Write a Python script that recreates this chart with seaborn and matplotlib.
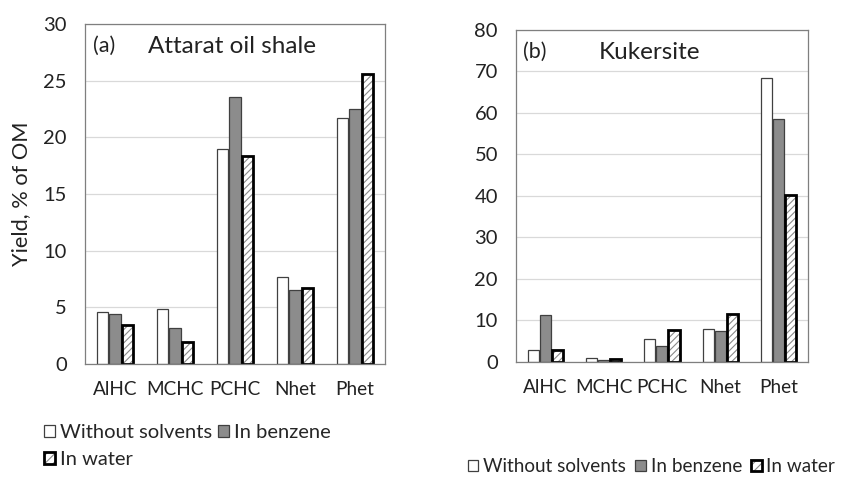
import matplotlib
matplotlib.use("Agg")
import matplotlib.pyplot as plt
import seaborn as sns
import pandas as pd
from matplotlib.patches import Rectangle, Patch

categories = ["AlHC", "MCHC", "PCHC", "Nhet", "Phet"]
series_names = ["Without solvents", "In benzene", "In water"]

attarat_without = [4.6, 4.85, 19.0, 7.65, 21.7]
attarat_benzene = [4.45, 3.2, 23.6, 6.5, 22.5]
attarat_water = [3.45, 1.9, 18.4, 6.75, 25.6]

kuker_without = [3.0, 1.0, 5.5, 8.0, 68.3]
kuker_benzene = [11.3, 0.55, 3.9, 7.5, 58.6]
kuker_water = [2.8, 0.7, 7.6, 11.5, 40.3]

FONT = ["Lato", "DejaVu Sans"]
sns.set_theme(style="white")
plt.rcParams["font.family"] = FONT
plt.rcParams["hatch.linewidth"] = 0.8

TXT = "#222222"
HATCH_C = "#8a8a8a"

def make_df(a, b, c):
    rows = []
    for name, vals in zip(series_names, [a, b, c]):
        for cat, v in zip(categories, vals):
            rows.append({"cat": cat, "series": name, "value": v})
    return pd.DataFrame(rows)

palette = {"Without solvents": "white", "In benzene": "#8c8c8c", "In water": "white"}

fig = plt.figure(figsize=(8.5, 4.82), dpi=100)
axL = fig.add_axes([0.100, 0.2448, 0.353, 0.705])
axR = fig.add_axes([0.607, 0.249, 0.3435, 0.689])

def style(ax, ymax, step):
    for i, cont in enumerate(ax.containers):
        for p in cont.patches:
            if i == 2:
                p.set_edgecolor(HATCH_C)
                p.set_linewidth(0)
                p.set_hatch("/////")
                ax.add_patch(Rectangle((p.get_x(), p.get_y()), p.get_width(), p.get_height(),
                                       fill=False, edgecolor="black", linewidth=2.0, zorder=p.get_zorder() + 0.1))
            else:
                p.set_edgecolor("#404040")
                p.set_linewidth(0.9)
    ax.set_ylim(0, ymax)
    ax.set_yticks(range(0, ymax + 1, step))
    ax.yaxis.grid(True, color="#d9d9d9", linewidth=0.9)
    ax.set_axisbelow(True)
    for s in ax.spines.values():
        s.set_visible(True)
        s.set_color("#7f7f7f")
        s.set_linewidth(0.9)
    ax.tick_params(axis="y", length=0, pad=13, labelsize=14.5, colors=TXT)
    ax.tick_params(axis="x", length=0, pad=12, labelsize=13.7, colors=TXT)
    ax.set_xlabel("")
    ax.set_xlim(-0.5, 4.5)

for ax, data, ymax, step in [
    (axL, make_df(attarat_without, attarat_benzene, attarat_water), 30, 5),
    (axR, make_df(kuker_without, kuker_benzene, kuker_water), 80, 10),
]:
    sns.barplot(data=data, x="cat", y="value", hue="series", palette=palette,
                width=0.62, gap=0.08, ax=ax, legend=True, saturation=1)
    style(ax, ymax, step)

handles, labels = axL.get_legend_handles_labels()
axL.get_legend().remove()
axR.get_legend().remove()
hs = []
for i, h in enumerate(handles):
    if i == 2:
        h.set_edgecolor(HATCH_C); h.set_linewidth(0); h.set_hatch("////")
        outline = Patch(facecolor="none", edgecolor="black", linewidth=2.0)
        hs.append((h, outline))
    else:
        h.set_edgecolor("#404040"); h.set_linewidth(0.9)
        hs.append(h)

axL.set_ylabel("Yield, % of OM", fontsize=15.7, color=TXT, labelpad=9)
axR.set_ylabel("")

axL.text(0.025, 0.965, "(a)", transform=axL.transAxes, fontsize=15.5, va="top", color=TXT)
axL.text(0.21, 0.965, "Attarat oil shale", transform=axL.transAxes, fontsize=17.5, va="top", color=TXT)
axR.text(0.025, 0.965, "(b)", transform=axR.transAxes, fontsize=15.5, va="top", color=TXT)
axR.text(0.285, 0.965, "Kukersite", transform=axR.transAxes, fontsize=17.5, va="top", color=TXT)

legkw = dict(frameon=False, handlelength=0.55, handleheight=0.55,
             handletextpad=0.25, borderaxespad=0, labelspacing=0.5, borderpad=0)
fig.legend([hs[0], hs[2], hs[1]], [labels[0], labels[2], labels[1]], fontsize=14.5,
           ncol=2, loc="upper left", columnspacing=0.3,
           bbox_to_anchor=(44 / 850, 1 - 424 / 482), **legkw)
fig.legend(hs, labels, ncol=3, loc="upper left", fontsize=13.6, columnspacing=0.5,
           bbox_to_anchor=(468 / 850, 1 - 458 / 482), **legkw)

fig.savefig("out.png", dpi=100)
